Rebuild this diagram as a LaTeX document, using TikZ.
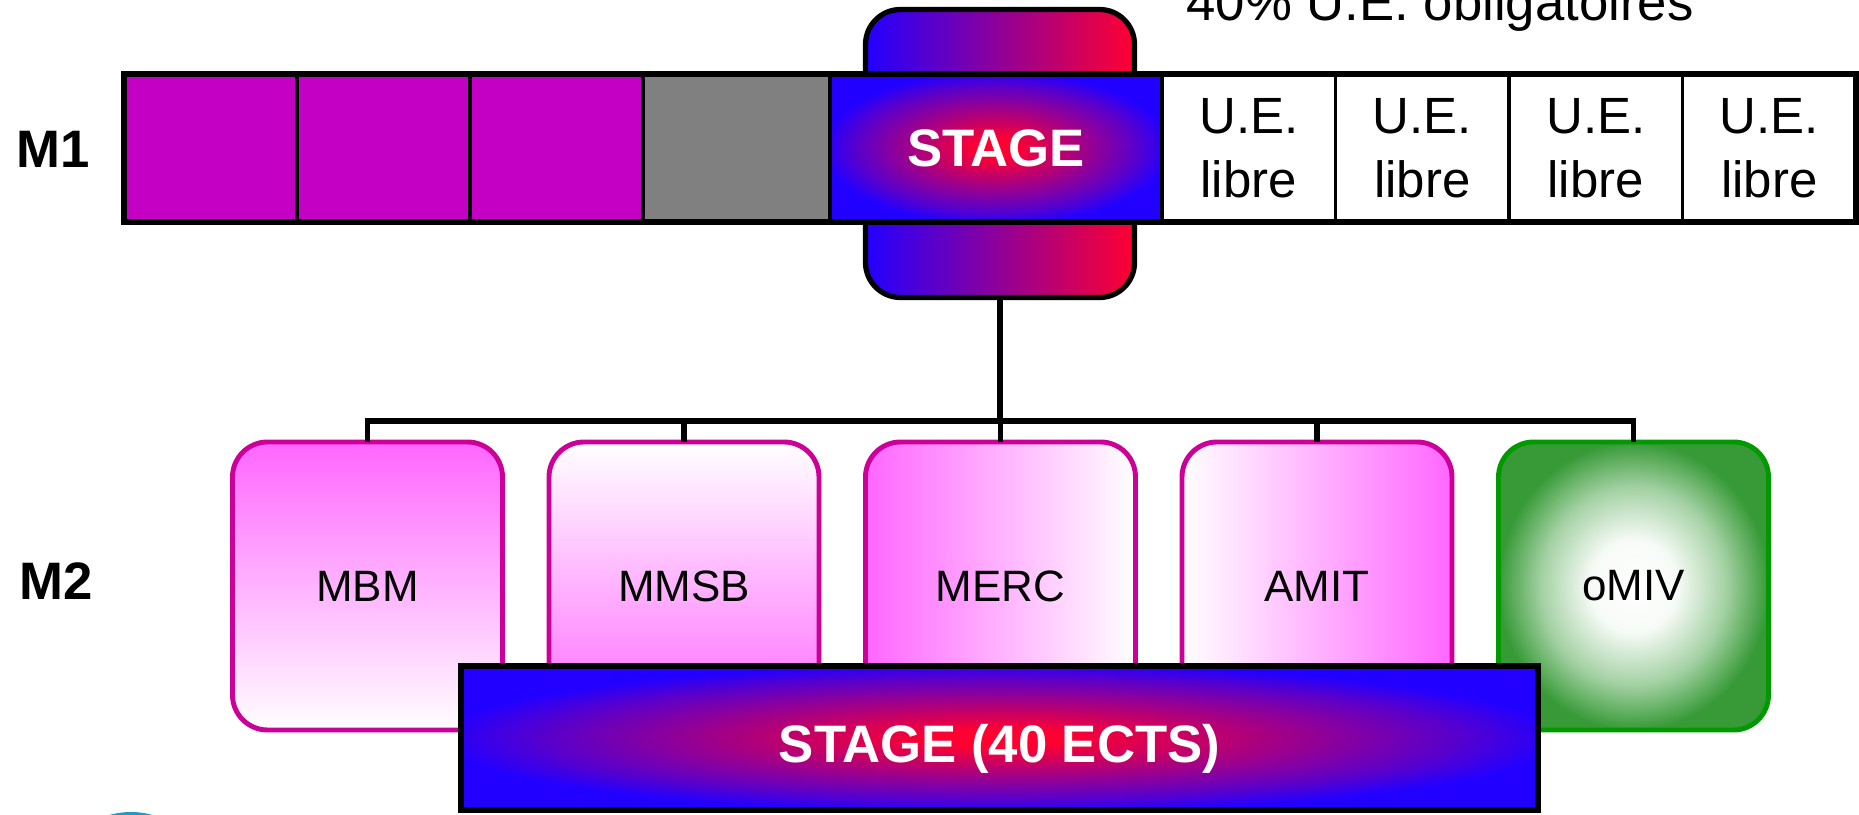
\documentclass[tikz,border=0pt]{standalone}
\usepackage{fontspec}
\setmainfont{Liberation Sans}
\usetikzlibrary{positioning}
\definecolor{UeMagenta}{HTML}{C400C4}
\definecolor{CellGray}{HTML}{808080}
\definecolor{StageBlue}{HTML}{2200FF}
\definecolor{StageRed}{HTML}{FF0030}
\definecolor{BoxPink}{HTML}{FF66FF}
\definecolor{BoxEdge}{HTML}{CC0099}
\definecolor{OmivEdge}{HTML}{009A00}
\definecolor{OmivFill}{HTML}{379A37}
\definecolor{LogoTeal}{HTML}{1E9BC0}
\pgfdeclareradialshading{stageglow}{\pgfpointorigin}{color(0bp)=(StageRed); color(3bp)=(StageRed); color(12bp)=(StageRed!62!StageBlue); color(21bp)=(StageRed!25!StageBlue); color(26bp)=(StageBlue); color(50bp)=(StageBlue)}
\pgfdeclareradialshading{greenglow}{\pgfpointorigin}{color(0bp)=(white); color(8bp)=(white!96!OmivFill); color(17bp)=(white!55!OmivFill); color(25bp)=(OmivFill); color(50bp)=(OmivFill)}
\tikzset{
  cell/.style={draw=black,line width=.9pt,minimum height=1.48cm,outer sep=0pt,inner sep=0pt},
  pinkcell/.style={cell,fill=UeMagenta,minimum width=1.73cm},
  uecell/.style={cell,fill=white,minimum width=1.735cm,align=center,font=\fontsize{14.5}{18.2}\selectfont},
  glow/.style={shading=stageglow,text=white,font=\fontsize{15}{18}\selectfont\bfseries},
  tab/.style={draw=black,line width=1.5pt,rounded corners=.35cm,minimum width=2.69cm,minimum height=2.88cm,left color=StageBlue,right color=StageRed},
  track/.style={draw=BoxEdge,line width=1.4pt,rounded corners=.35cm,minimum width=2.70cm,minimum height=2.88cm,outer sep=0pt,font=\fontsize{12.5}{15}\selectfont},
  level/.style={font=\fontsize{15}{18}\selectfont\bfseries},
  link/.style={draw=black,line width=1.5pt},
}

\begin{document}
\begin{tikzpicture}
    \useasboundingbox (0,0) rectangle (18.59,-8.15);

    \node[tab] (stagetab) at (10.00,-1.535) {};

    \node[pinkcell] (m1a) at (2.105,-1.48) {};
    \node[pinkcell,right=0pt of m1a] (m1b) {};
    \node[pinkcell,right=0pt of m1b] (m1c) {};
    \node[cell,fill=CellGray,minimum width=1.87cm,right=0pt of m1c] (m1d) {};
    \node[cell,glow,minimum width=3.32cm,right=0pt of m1d] (m1stage) {STAGE};
    \node[uecell,right=0pt of m1stage] (ue1) {U.E.\\libre};
    \node[uecell,right=0pt of ue1] (ue2) {U.E.\\libre};
    \node[uecell,right=0pt of ue2] (ue3) {U.E.\\libre};
    \node[uecell,right=0pt of ue3] (ue4) {U.E.\\libre};
    \draw[line width=1.6pt] (m1a.north west) rectangle (ue4.south east);

    \node[level] (m1) at (0.535,-1.49) {M1};
    \node[level] (m2) at (0.56,-5.815) {M2};
    \node[anchor=base,font=\fontsize{15}{18}\selectfont] (note) at (14.40,-0.21) {40\% U.E. obligatoires};

    \node[track,top color=BoxPink,bottom color=white] (mbm) at (3.675,-5.86) {MBM};
    \node[track,top color=white,bottom color=BoxPink,right=.465cm of mbm] (mmsb) {MMSB};
    \node[track,left color=BoxPink,right color=white,right=.465cm of mmsb] (merc) {MERC};
    \node[track,left color=white,right color=BoxPink,right=.465cm of merc] (amit) {AMIT};
    \node[track,draw=OmivEdge,shading=greenglow,right=.465cm of amit] (omiv) {oMIV};

    \coordinate (bus) at (10.00,-4.21);
    \draw[link] (stagetab.south) -- (bus);
    \foreach \b in {mbm,mmsb,merc,amit,omiv}
      \draw[link] (\b.north) |- (bus);

    \node[glow,draw=black,line width=1.6pt,minimum width=10.77cm,minimum height=1.44cm] (stage2) at (9.995,-7.38) {\raisebox{-1.1mm}[\height][\depth]{STAGE (40 ECTS)}};

    \fill[LogoTeal] (1.31,-8.90) circle (.78);
\end{tikzpicture}
\end{document}
